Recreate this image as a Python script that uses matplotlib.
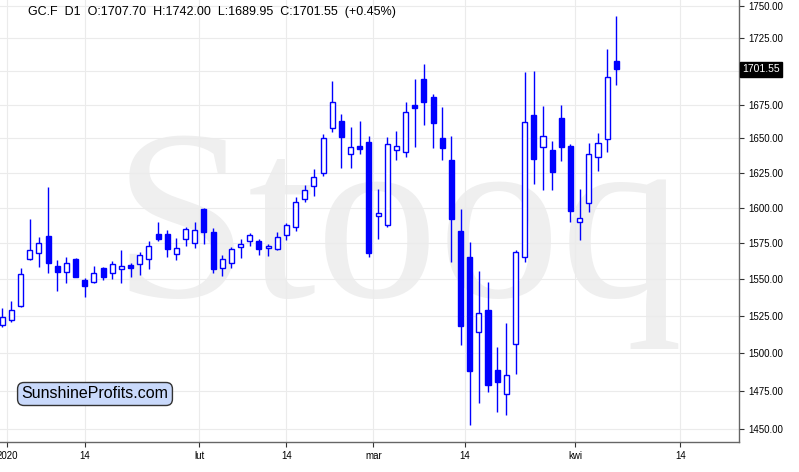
import matplotlib
matplotlib.use("Agg")
import matplotlib.pyplot as plt
import matplotlib.transforms as mtransforms
from matplotlib.ticker import FixedLocator, NullLocator, FuncFormatter
import numpy as np
import pandas as pd

plt.rcParams['font.family'] = ['Liberation Sans', 'DejaVu Sans']

# GC.F daily, 31 Dec 2019 - 7 Apr 2020
dates = pd.bdate_range("2019-12-31", "2020-04-07")
dates = dates.drop(pd.to_datetime(["2020-01-01", "2020-01-20", "2020-02-17"]))

opens = [1518.8, 1521.9, 1531.8, 1563.7, 1568.3, 1580.0, 1559.1, 1554.7, 1564.0, 1549.2,
         1547.8, 1557.5, 1554.1, 1557.2, 1559.8, 1560.3, 1564.2, 1581.4, 1581.4, 1567.2,
         1577.7, 1574.9, 1598.9, 1582.6, 1557.5, 1561.0, 1572.1, 1576.7, 1576.5, 1571.4,
         1570.7, 1580.7, 1586.3, 1606.1, 1615.8, 1624.7, 1657.5, 1662.9, 1638.5, 1644.5,
         1647.2, 1594.0, 1587.7, 1641.4, 1639.9, 1674.7, 1694.2, 1680.4, 1650.1, 1634.3,
         1583.7, 1565.0, 1514.2, 1529.2, 1488.4, 1473.1, 1506.2, 1565.3, 1667.1, 1644.0,
         1641.6, 1664.9, 1644.5, 1590.2, 1603.7, 1636.7, 1649.4, 1707.70]
highs = [1530.1, 1534.9, 1557.5, 1591.8, 1579.5, 1614.6, 1563.3, 1565.1, 1564.3, 1550.6,
         1559.3, 1558.6, 1562.4, 1570.0, 1561.0, 1568.6, 1576.5, 1589.7, 1584.2, 1578.4,
         1586.1, 1589.7, 1599.6, 1585.4, 1566.7, 1572.5, 1577.9, 1581.9, 1577.7, 1574.2,
         1582.6, 1589.0, 1607.7, 1616.5, 1627.6, 1653.3, 1692.9, 1667.8, 1658.2, 1663.1,
         1651.8, 1613.2, 1651.3, 1655.3, 1676.7, 1693.9, 1705.3, 1682.9, 1673.0, 1651.8,
         1599.0, 1575.8, 1555.8, 1548.0, 1504.1, 1520.2, 1570.1, 1699.3, 1700.5, 1673.7,
         1647.9, 1674.4, 1645.9, 1613.2, 1646.5, 1653.8, 1716.6, 1742.00]
lows = [1517.3, 1520.6, 1531.1, 1563.0, 1558.2, 1554.5, 1542.1, 1547.6, 1551.2, 1537.6,
        1547.2, 1549.4, 1550.3, 1547.2, 1551.3, 1552.9, 1557.0, 1576.3, 1565.6, 1563.3,
        1573.0, 1571.4, 1574.4, 1554.1, 1552.2, 1557.5, 1564.5, 1573.0, 1566.7, 1566.0,
        1570.5, 1577.2, 1583.4, 1603.8, 1608.4, 1623.0, 1654.5, 1628.3, 1628.3, 1638.7,
        1565.3, 1577.9, 1586.3, 1634.3, 1636.7, 1643.6, 1659.7, 1642.8, 1634.3, 1561.8,
        1505.0, 1452.5, 1467.3, 1474.4, 1461.4, 1458.9, 1486.3, 1561.8, 1616.8, 1612.5,
        1612.5, 1633.4, 1589.8, 1577.4, 1596.9, 1626.2, 1639.9, 1689.95]
closes = [1524.0, 1528.7, 1553.4, 1570.2, 1574.9, 1561.4, 1555.2, 1561.0, 1551.7, 1545.5,
          1554.5, 1551.7, 1560.7, 1559.1, 1557.9, 1566.5, 1572.8, 1577.9, 1571.1, 1571.4,
          1584.7, 1584.2, 1583.0, 1556.8, 1563.7, 1570.7, 1574.2, 1580.7, 1571.1, 1573.0,
          1579.5, 1587.6, 1604.4, 1612.7, 1621.8, 1650.1, 1677.1, 1651.3, 1644.0, 1642.6,
          1568.1, 1596.2, 1645.7, 1644.5, 1669.3, 1672.7, 1677.1, 1661.6, 1643.2, 1591.9,
          1517.9, 1488.0, 1527.0, 1478.7, 1480.8, 1485.7, 1568.8, 1661.9, 1634.8, 1652.0,
          1625.9, 1644.0, 1598.0, 1592.6, 1638.5, 1646.5, 1695.4, 1701.55]

tick_pos = [0.5, 9, 21.5, 31, 40.5, 50.5, 62.5, 74]
tick_labels = ['2020', '14', 'lut', '14', 'mar', '14', 'kwi', '14']
price_ticks = np.arange(1450, 1751, 25)

fig = plt.figure(figsize=(7.99, 4.72), dpi=100)
ax = fig.add_axes([0, 30 / 472, 739.3 / 799, 442 / 472])

# watermark, behind grid and candles
ax.text(398 / 799, (472 - 297) / 472, 'Stooq', transform=fig.transFigure,
        family='Liberation Serif', fontsize=176, color='#efefef',
        ha='center', va='baseline', zorder=0.2, clip_on=False)

x = np.arange(len(opens))
o = np.array(opens)
c = np.array(closes)
up = c >= o
blue = '#0000ff'

ax.vlines(x, lows, highs, color=blue, lw=1.0, zorder=2)
ax.bar(x, np.abs(c - o), bottom=np.minimum(o, c), width=0.55,
       color=np.where(up, 'white', blue), edgecolor=blue, linewidth=1.0, zorder=3)

ax.set_yscale('log')
ax.set_ylim(1441.8, 1754.7)
ax.set_xlim(-0.25, 80.42)

ax.yaxis.tick_right()
ax.yaxis.set_major_locator(FixedLocator(price_ticks))
ax.yaxis.set_minor_locator(NullLocator())
# the 1700 label is hidden behind the last-price marker
ax.yaxis.set_major_formatter(FuncFormatter(lambda v, p: '' if v == 1700 else f'{v:.2f}'))
ax.set_xticks(tick_pos)
ax.set_xticklabels(tick_labels)
ax.tick_params(axis='both', labelsize=7, length=3.5, width=0.8, color='#333333', pad=3)

ax.grid(True, color='#ebebeb', lw=0.8)
ax.set_axisbelow(True)
for s in ['top', 'left']:
    ax.spines[s].set_visible(False)
for s in ['bottom', 'right']:
    ax.spines[s].set_color('#666666')
    ax.spines[s].set_linewidth(1.0)

# last price marker
trans = mtransforms.blended_transform_factory(ax.transAxes, ax.transData)
ax.text(1.004, closes[-1], f'{closes[-1]:.2f}', transform=trans, ha='left', va='center',
        color='white', fontsize=7.5,
        bbox=dict(boxstyle='square,pad=0.25', fc='black', ec='black'))

fig.text(28 / 799, (472 - 12) / 472,
         'GC.F  D1  O:1707.70  H:1742.00  L:1689.95  C:1701.55  (+0.45%)',
         fontsize=9, ha='left', va='center')

fig.text(95 / 799, (472 - 394) / 472, 'SunshineProfits.com', fontsize=11.5,
         ha='center', va='center',
         bbox=dict(boxstyle='round,pad=0.25,rounding_size=0.4', fc='#c9d9fb',
                   ec='#333333', lw=1.0))

fig.savefig('out.png', dpi=100)
